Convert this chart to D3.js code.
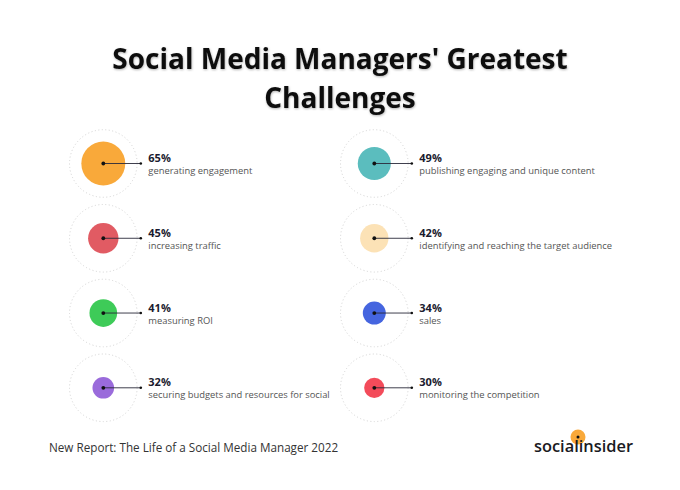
<!DOCTYPE html>
<html><head><meta charset="utf-8">
<script src="https://cdn.jsdelivr.net/npm/d3@7"></script>
<style>
html,body{margin:0;padding:0;background:#fff;}
svg{display:block;}
</style></head>
<body>
<svg id="chart" width="680" height="490"></svg>
<script>
const titleLines = ["Social Media Managers' Greatest", "Challenges"];
const categories = ["generating engagement","increasing traffic","measuring ROI","securing budgets and resources for social",
  "publishing engaging and unique content","identifying and reaching the target audience","sales","monitoring the competition"];
const values = [65,45,41,32,49,42,34,30];
const colors = ["#F9A93A","#E15B63","#3ECB58","#9A6BDB","#5BBDBE","#FCE2B6","#4565DF","#F34B5A"];
const columns = [0,0,0,0,1,1,1,1];
const rows = [0,1,2,3,0,1,2,3];
const footer = "New Report: The Life of a Social Media Manager 2022";
const brand = "socialinsider";

const svg = d3.select("#chart");
const defs = svg.append("defs");
const f = defs.append("filter").attr("id","sh").attr("x","-10%").attr("y","-30%").attr("width","120%").attr("height","160%");
f.append("feDropShadow").attr("dx",0.5).attr("dy",1.0).attr("stdDeviation",0.9).attr("flood-color","#000").attr("flood-opacity",0.3);

const font = "'Open Sans', sans-serif";
svg.append("g").selectAll("text").data(titleLines).join("text")
  .attr("x",340).attr("y",(d,i)=>68.5+i*39.5)
  .attr("text-anchor","middle").attr("font-family",font).attr("font-weight",700)
  .attr("font-size",28).attr("fill","#111").attr("filter","url(#sh)")
  .text(d=>d);

const x = d3.scalePoint().domain([0,1]).range([103.3,374.3]);
const y = d3.scalePoint().domain([0,1,2,3]).range([163.5,387.8]);
const r = d3.scaleLinear().domain([0,100]).range([0,33.8]);

const data = categories.map((c,i)=>({c,v:values[i],col:colors[i],cx:x(columns[i]),cy:y(rows[i])}));
const g = svg.append("g").selectAll("g").data(data).join("g")
  .attr("transform",d=>`translate(${d.cx},${d.cy})`);
g.append("circle").attr("r",r(100)).attr("fill","none").attr("stroke","#d2d2d2")
  .attr("stroke-width",1).attr("stroke-dasharray","1,2.5");
g.append("circle").attr("r",d=>r(d.v)).attr("fill",d=>d.col);
g.append("line").attr("x1",0).attr("x2",37.5).attr("y1",0).attr("y2",0).attr("stroke","#2a2a3a").attr("stroke-width",0.9);
g.append("circle").attr("r",1.9).attr("fill","#111");
g.append("circle").attr("cx",37.5).attr("r",1.3).attr("fill","#111");
g.append("text").attr("x",45).attr("y",-1.5).attr("font-family",font).attr("font-weight",700)
  .attr("font-size",11).attr("fill","#1b1b2f").text(d=>d.v+"%");
g.append("text").attr("x",45).attr("y",10.5).attr("font-family",font)
  .attr("font-size",9.4).attr("fill","#555").text(d=>d.c);

svg.append("text").attr("x",49).attr("y",452).attr("font-family",font).attr("font-size",11.7)
  .attr("fill","#333").text(footer);
svg.append("circle").attr("cx",578).attr("cy",437).attr("r",7.5).attr("fill","#F9A93A");
svg.append("text").attr("x",534).attr("y",452).attr("font-family",font).attr("font-weight",600)
  .attr("font-size",16.4).attr("fill","#1a1a22").text(brand);
svg.append("circle").attr("cx",578).attr("cy",437).attr("r",1.5).attr("fill","#111");
</script>
</body></html>
